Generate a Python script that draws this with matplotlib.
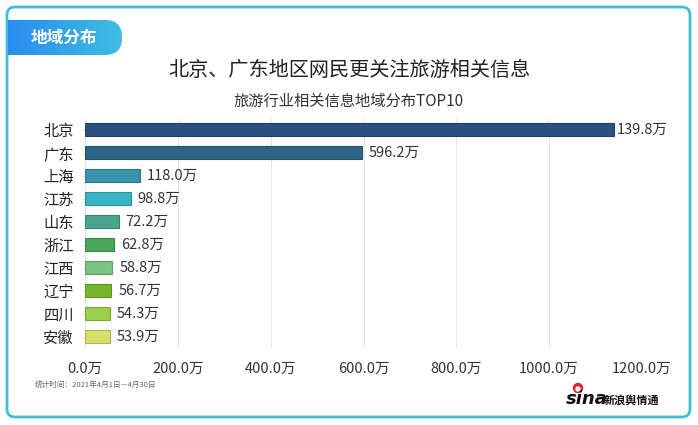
import numpy as np
import matplotlib
matplotlib.use('Agg')
import matplotlib.pyplot as plt
from matplotlib.patches import FancyBboxPatch

plt.rcParams['font.family'] = ['Noto Sans CJK SC', 'DejaVu Sans']

# data
provinces = ['北京', '广东', '上海', '江苏', '山东', '浙江', '江西', '辽宁', '四川', '安徽']
values = [1139.8, 596.2, 118.0, 98.8, 72.2, 62.8, 58.8, 56.7, 54.3, 53.9]
value_labels = ['139.8万', '596.2万', '118.0万', '98.8万', '72.2万',
                '62.8万', '58.8万', '56.7万', '54.3万', '53.9万']
bar_colors = ['#2c4f82', '#2c6585', '#3a93a8', '#35b6c2', '#4ba58f',
              '#4aa95a', '#7cc386', '#78b52e', '#9ccf4c', '#d7e068']
x_ticks = [0, 200, 400, 600, 800, 1000, 1200]

W, H = 698, 425
fig = plt.figure(figsize=(W / 100, H / 100), dpi=100)
fig.patch.set_facecolor('white')

# background layer in pixel coords
bg = fig.add_axes([0, 0, 1, 1])
bg.set_xlim(0, W)
bg.set_ylim(H, 0)
bg.axis('off')

frame = FancyBboxPatch((7, 7), 683, 410, boxstyle='round,pad=0,rounding_size=8',
                       facecolor='white', edgecolor='#45bcd6', linewidth=2)
bg.add_patch(frame)

# gradient tab at top-left
tab = FancyBboxPatch((-30, 20), 152, 35, boxstyle='round,pad=0,rounding_size=17',
                     facecolor='none', edgecolor='none')
bg.add_patch(tab)
grad = np.linspace(0, 1, 256).reshape(1, -1)
cmap = matplotlib.colors.LinearSegmentedColormap.from_list('tab', ['#2b8cf0', '#3fbde2'])
im = bg.imshow(grad, extent=(8, 122, 55, 20), cmap=cmap, aspect='auto', zorder=2)
im.set_clip_path(tab)
bg.text(64, 38, '地域分布', color='white', fontsize=12, fontweight='bold',
        ha='center', va='center', zorder=3)

bg.text(349, 70, '北京、广东地区网民更关注旅游相关信息', fontsize=14.5,
        color='#222222', ha='center', va='center')
bg.text(349, 101, '旅游行业相关信息地域分布TOP10', fontsize=11,
        color='#333333', ha='center', va='center')

bg.text(35, 386, '统计时间：2021年4月1日—4月30日', fontsize=5.5,
        color='#666666', ha='left', va='center')

# logo
bg.add_patch(plt.Circle((578, 388), 4.5, color='#e0232b', zorder=3))
bg.add_patch(plt.Circle((578, 389), 2, color='white', zorder=4))
bg.text(566, 399, 'sina', fontsize=13, fontweight='bold', style='italic',
        color='#111111', ha='left', va='center', family='DejaVu Sans')
bg.text(604, 400, '新浪舆情通', fontsize=8, fontweight='bold', style='italic',
        color='#111111', ha='left', va='center')

# main chart
ax = fig.add_axes([85 / W, 1 - 348 / H, 557 / W, 230 / H])
ax.set_facecolor('none')
y = np.arange(len(provinces))
bars = ax.barh(y, values, height=0.54, color=bar_colors, zorder=3)
for b, c in zip(bars, bar_colors):
    b.set_edgecolor(matplotlib.colors.to_hex(np.array(matplotlib.colors.to_rgb(c)) * 0.8))
    b.set_linewidth(0.8)
for yi, v, lab in zip(y, values, value_labels):
    off = 5 if v < 1000 else 2
    ax.annotate(lab, (v, yi), xytext=(off, 0), textcoords='offset points',
                va='center', ha='left', fontsize=10.5, color='#333333', zorder=2)

ax.set_ylim(len(provinces) - 0.5, -0.5)
ax.set_xlim(0, 1200)
ax.set_xticks(x_ticks)
ax.set_xticklabels([f'{t:.1f}万' for t in x_ticks], fontsize=10.5, color='#333333')
ax.set_yticks(y)
ax.set_yticklabels(provinces, fontsize=11, color='#222222')
ax.tick_params(axis='x', length=0, pad=10)
ax.tick_params(axis='y', length=3, color='#e6e6e6', pad=5)
ax.grid(axis='x', color='#e6e6e6', linewidth=0.8, zorder=0)
for s in ['top', 'right', 'bottom']:
    ax.spines[s].set_visible(False)
ax.spines['left'].set_color('#e6e6e6')

fig.savefig('out.png', dpi=100)
